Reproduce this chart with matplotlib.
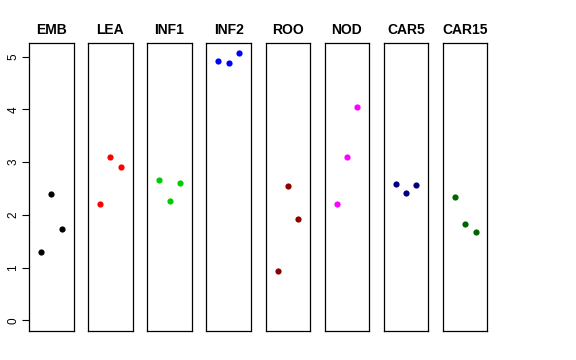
import numpy as np
import matplotlib.pyplot as plt

plt.rcParams['font.family'] = ['Liberation Sans', 'DejaVu Sans']

# tissues and their three replicate values
tissues = ['EMB', 'LEA', 'INF1', 'INF2', 'ROO', 'NOD', 'CAR5', 'CAR15']
values = [
    [1.30, 2.40, 1.74],
    [2.21, 3.09, 2.91],
    [2.66, 2.27, 2.60],
    [4.92, 4.88, 5.06],
    [0.94, 2.54, 1.93],
    [2.21, 3.10, 4.05],
    [2.58, 2.41, 2.57],
    [2.34, 1.83, 1.67],
]
colors = ['black', 'red', '#00CD00', 'blue', '#8B0000', 'magenta', '#000080', '#006400']
reps = [1, 2, 3]

W, H = 576, 360
fig = plt.figure(figsize=(W / 100, H / 100), dpi=100)

ymax = max(max(v) for v in values)
ylim = (0 - 0.04 * ymax, ymax + 0.04 * ymax)
xlim = (0 - 0.04 * 4, 4 + 0.04 * 4)

left0, step, width = 29, 59.14, 44.5
top, bottom = 42.7, 331

for i, (name, vals, col) in enumerate(zip(tissues, values, colors)):
    ax = fig.add_axes([(left0 + i * step) / W, (H - bottom) / H,
                       width / W, (bottom - top) / H])
    ax.scatter(reps, vals, color=col, s=20, zorder=3, linewidths=0)
    ax.set_xlim(xlim)
    ax.set_ylim(ylim)
    ax.set_xticks([])
    ax.set_title(name, fontsize=10, fontweight='bold', pad=6)
    for sp in ax.spines.values():
        sp.set_linewidth(0.9)
    if i == 0:
        ax.set_yticks(range(6))
        ax.tick_params(axis='y', length=5, width=0.8, labelsize=8.5, pad=2)
        plt.setp(ax.get_yticklabels(), rotation=90, va='center')
    else:
        ax.set_yticks([])

fig.savefig('out.png', dpi=100)
